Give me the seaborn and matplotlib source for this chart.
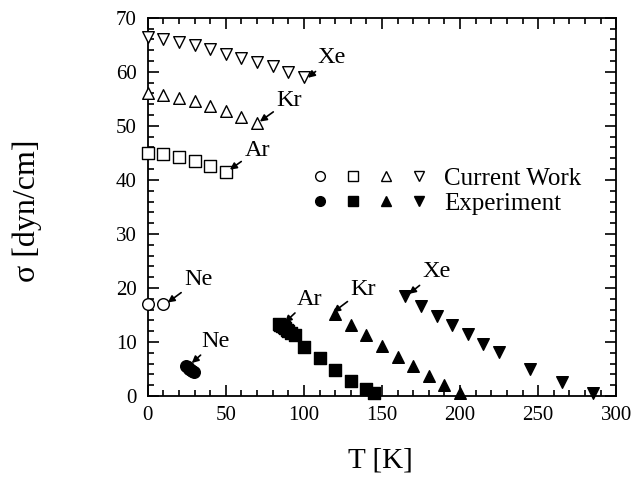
import matplotlib
matplotlib.use("Agg")
import matplotlib.pyplot as plt
import seaborn as sns
import pandas as pd
from matplotlib.lines import Line2D
from matplotlib.legend_handler import HandlerTuple
from matplotlib.ticker import MultipleLocator

# ---- data ----
# Current work (open symbols)
ne_cw_T = [0, 10]
ne_cw_s = [17.0, 17.0]
ar_cw_T = [0, 10, 20, 30, 40, 50]
ar_cw_s = [44.9, 44.8, 44.2, 43.5, 42.6, 41.4]
kr_cw_T = [0, 10, 20, 30, 40, 50, 60, 70]
kr_cw_s = [56.0, 55.8, 55.2, 54.6, 53.7, 52.8, 51.7, 50.6]
xe_cw_T = [0, 10, 20, 30, 40, 50, 60, 70, 80, 90, 100]
xe_cw_s = [66.4, 66.0, 65.5, 64.9, 64.2, 63.3, 62.6, 61.8, 61.0, 60.0, 59.0]

# Experiment (filled symbols)
ne_ex_T = [24.6, 25.5, 26.5, 27.5, 28.5, 29.5]
ne_ex_s = [5.6, 5.3, 5.0, 4.8, 4.6, 4.4]
ar_ex_T = [84, 85, 86, 87, 88, 89, 90, 92, 94, 100, 110, 120, 130, 140, 145]
ar_ex_s = [13.4, 13.2, 12.9, 12.7, 12.5, 12.3, 12.0, 11.7, 11.3, 9.1, 7.0, 4.9, 2.8, 1.3, 0.6]
kr_ex_T = [120, 130, 140, 150, 160, 170, 180, 190, 200]
kr_ex_s = [15.2, 13.2, 11.2, 9.2, 7.3, 5.5, 3.7, 2.0, 0.5]
xe_ex_T = [165, 175, 185, 195, 205, 215, 225, 245, 265, 285]
xe_ex_s = [18.5, 16.7, 14.9, 13.1, 11.4, 9.7, 8.1, 5.0, 2.5, 0.5]

legend_labels = ["Current Work", "Experiment"]

# annotations: (label, text position, arrow tip)
annotations = [
    ("Xe", (109, 61.6), (102.6, 58.9)),
    ("Kr", (82.5, 53.7), (71.8, 50.8)),
    ("Ar", (62, 44.5), (52.6, 41.9)),
    ("Ne", (23.5, 20.5), (12.8, 17.3)),
    ("Ne", (34.6, 9.1), (28.2, 6.1)),
    ("Ar", (95.5, 16.9), (87.8, 13.6)),
    ("Kr", (130, 18.7), (118.8, 15.5)),
    ("Xe", (176, 22.0), (167.3, 18.9)),
]

# ---- style ----
sns.set_style("ticks")
plt.rcParams["font.family"] = ["Liberation Serif", "DejaVu Serif"]
plt.rcParams["xtick.direction"] = "in"
plt.rcParams["ytick.direction"] = "in"
for key in ["text.color", "axes.labelcolor", "xtick.color", "ytick.color",
            "axes.edgecolor"]:
    plt.rcParams[key] = "black"

fig = plt.figure(figsize=(6.34, 4.95), dpi=100)
ax = fig.add_axes([0.233, 0.2, 0.739, 0.764])

series = [
    (ne_cw_T, ne_cw_s, "o", False),
    (ar_cw_T, ar_cw_s, "s", False),
    (kr_cw_T, kr_cw_s, "^", False),
    (xe_cw_T, xe_cw_s, "v", False),
    (ne_ex_T, ne_ex_s, "o", True),
    (ar_ex_T, ar_ex_s, "s", True),
    (kr_ex_T, kr_ex_s, "^", True),
    (xe_ex_T, xe_ex_s, "v", True),
]
for T, s, m, filled in series:
    df = pd.DataFrame({"T": T, "sigma": s})
    sns.scatterplot(data=df, x="T", y="sigma", marker=m, s=70, ax=ax,
                    facecolor="black" if filled else "white",
                    edgecolor="black", linewidth=1.0, zorder=3)
for coll in ax.collections:
    coll.set_clip_on(False)

for txt, xytext, xy in annotations:
    ax.annotate(txt, xy=xy, xytext=xytext, fontsize=17.5, color="black",
                arrowprops=dict(arrowstyle="-|>", color="black", lw=1.2,
                                mutation_scale=10, shrinkA=0, shrinkB=0))

ax.set_xlim(0, 300)
ax.set_ylim(0, 70)
ax.xaxis.set_major_locator(MultipleLocator(50))
ax.xaxis.set_minor_locator(MultipleLocator(10))
ax.yaxis.set_major_locator(MultipleLocator(10))
ax.yaxis.set_minor_locator(MultipleLocator(2))
ax.tick_params(which="both", top=True, right=True, direction="in", width=1.2,
               color="black", labelcolor="black")
ax.tick_params(which="major", length=8, labelsize=15)
ax.tick_params(axis="x", which="major", pad=7)
ax.tick_params(axis="y", which="major", pad=8)
ax.tick_params(which="minor", length=4)
for sp in ax.spines.values():
    sp.set_linewidth(1.3)
    sp.set_color("black")

ax.set_xlabel("T [K]", fontsize=21, color="black")
ax.set_ylabel("σ [dyn/cm]", fontsize=23, color="black")
ax.xaxis.set_label_coords(0.496, -0.135)
ax.yaxis.set_label_coords(-0.225, 0.49)

def mk(m, filled):
    return Line2D([], [], marker=m, linestyle="none", markersize=7,
                  markerfacecolor="black" if filled else "white",
                  markeredgecolor="black", markeredgewidth=1.0)

h_cw = tuple(mk(m, False) for m in ["o", "s", "^", "v"])
h_ex = tuple(mk(m, True) for m in ["o", "s", "^", "v"])
leg = ax.legend([h_cw, h_ex], legend_labels,
                handler_map={tuple: HandlerTuple(ndivide=None, pad=0)},
                handlelength=5.28, fontsize=18, frameon=False,
                loc="center left", bbox_to_anchor=(0.333, 0.542),
                borderaxespad=0, borderpad=0,
                labelspacing=0.1, handletextpad=0.34)
for t in leg.get_texts():
    t.set_color("black")

fig.savefig("out.png", dpi=100)
